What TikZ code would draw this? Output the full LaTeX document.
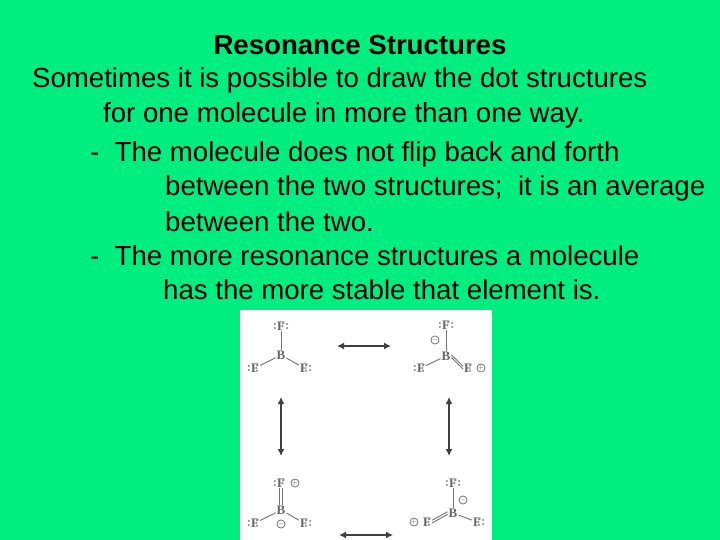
\documentclass[tikz,border=0pt]{standalone}
\usepackage{fontspec}
\setmainfont{Liberation Sans}
\newfontfamily\serifF{Liberation Serif}
\begin{document}
\begin{tikzpicture}[x=1pt,y=-1pt,
 txt/.style={anchor=west,inner sep=0pt,font=\fontsize{27.6}{30}\selectfont},
 atom/.style={inner sep=0.5pt,font=\serifF\bfseries\fontsize{13}{13}\selectfont,text=black!60},
 chg/.style={circle,draw=black!55,line width=0.8pt,inner sep=0pt,minimum size=8pt,font=\fontsize{7}{7}\selectfont,text=black!60},
 bond/.style={draw=black!55,line width=0.9pt,shorten <=0.5pt,shorten >=0.5pt},
 rarr/.style={draw=black!75,line width=1.5pt,{Latex[length=7pt,width=7pt]}-{Latex[length=7pt,width=7pt]}},
 lp/.style={fill=black!55,circle,inner sep=0pt,minimum size=2pt}]
\usetikzlibrary{arrows.meta}
\fill[fill={rgb,255:red,0;green,238;blue,127}] (0,0) rectangle (720,540);
\useasboundingbox (0,0) rectangle (720,540);
\node[anchor=center,inner sep=0pt,font=\bfseries\fontsize{27.6}{30}\selectfont] (title) at (360,45) {Resonance Structures};
\node[txt] (l1) at (32,80) {Sometimes it is possible to draw the dot structures};
\node[txt] (l2) at (103,115) {for one molecule in more than one way.};
\node[txt] (l3) at (90,154) {-\ \ The molecule does not flip back and forth};
\node[txt] (l4) at (165,188) {between the two structures;\ \ it is an average};
\node[txt] (l5) at (165,222) {between the two.};
\node[txt] (l6) at (90,256) {-\ \ The more resonance structures a molecule};
\node[txt] (l7) at (163,290) {has the more stable that element is.};
\fill[white] (240,310) rectangle (492,540);
% molecule 1
\node[atom] (b1) at (281,355) {B};
\node[atom] (f1t) at (281,326) {F};
\node[atom] (f1l) at (255,368) {F};
\node[atom] (f1r) at (304,368) {F};
\draw[bond] (b1)--(f1t); \draw[bond] (b1)--(f1l); \draw[bond] (b1)--(f1r);
% molecule 2
\node[atom] (b2) at (446,356) {B};
\node[atom] (f2t) at (446,325) {F};
\node[atom] (f2l) at (421,368) {F};
\node[atom] (f2r) at (468,368) {F};
\draw[bond] (b2)--(f2t); \draw[bond] (b2)--(f2l);
\draw[bond] ([yshift=-1.2pt]b2.east)--([yshift=-1.2pt]f2r.west); \draw[bond] ([yshift=1.5pt]b2.east)--([yshift=1.5pt]f2r.west);
\node[chg] (c2a) at (435,340) {$-$};
\node[chg] (c2b) at (481,368) {$+$};
% molecule 3
\node[atom] (b3) at (281,510) {B};
\node[atom] (f3t) at (281,483) {F};
\node[atom] (f3l) at (255,523) {F};
\node[atom] (f3r) at (304,523) {F};
\draw[bond] ([xshift=-1.3pt]b3.north)--([xshift=-1.3pt]f3t.south); \draw[bond] ([xshift=1.3pt]b3.north)--([xshift=1.3pt]f3t.south);
\draw[bond] (b3)--(f3l); \draw[bond] (b3)--(f3r);
\node[chg] (c3a) at (295,483) {$+$};
\node[chg] (c3b) at (281,524) {$-$};
% molecule 4
\node[atom] (b4) at (453,513) {B};
\node[atom] (f4t) at (453,483) {F};
\node[atom] (f4l) at (427,522) {F};
\node[atom] (f4r) at (477,522) {F};
\draw[bond] (b4)--(f4t); \draw[bond] (b4)--(f4r);
\draw[bond] ([yshift=-1.2pt]b4.west)--([yshift=-1.2pt]f4l.east); \draw[bond] ([yshift=1.5pt]b4.west)--([yshift=1.5pt]f4l.east);
\node[chg] (c4a) at (463,500) {$-$};
\node[chg] (c4b) at (414,522) {$+$};
% lone pairs
\foreach \n in {f1t,f2t,f3t,f4t}{
 \node[lp] at ([xshift=-2pt,yshift=-2pt]\n.north) {}; \node[lp] at ([xshift=2pt,yshift=-2pt]\n.north) {};}
\foreach \n in {f1t,f2t,f4t}{
 \node[lp] at ([xshift=-1.5pt,yshift=-2pt]\n.west) {}; \node[lp] at ([xshift=-1.5pt,yshift=2pt]\n.west) {};
 \node[lp] at ([xshift=1.5pt,yshift=-2pt]\n.east) {}; \node[lp] at ([xshift=1.5pt,yshift=2pt]\n.east) {};}
\node[lp] at ([xshift=-1.5pt,yshift=-2pt]f3t.west) {}; \node[lp] at ([xshift=-1.5pt,yshift=2pt]f3t.west) {};
\foreach \n in {f1l,f1r,f2l,f2r,f3l,f3r,f4l,f4r}{
 \node[lp] at ([xshift=-2pt,yshift=-2pt]\n.north) {}; \node[lp] at ([xshift=2pt,yshift=-2pt]\n.north) {};
 \node[lp] at ([xshift=-2pt,yshift=2pt]\n.south) {}; \node[lp] at ([xshift=2pt,yshift=2pt]\n.south) {};}
\foreach \n in {f1l,f2l,f3l}{\node[lp] at ([xshift=-1.5pt,yshift=-2pt]\n.west) {}; \node[lp] at ([xshift=-1.5pt,yshift=2pt]\n.west) {};}
\foreach \n in {f1r,f3r,f4r}{\node[lp] at ([xshift=1.5pt,yshift=-2pt]\n.east) {}; \node[lp] at ([xshift=1.5pt,yshift=2pt]\n.east) {};}
% arrows
\coordinate (a1) at (337,346); \coordinate (a2) at (391,346);
\coordinate (a3) at (281,397); \coordinate (a4) at (281,456);
\coordinate (a5) at (449,397); \coordinate (a6) at (449,456);
\coordinate (a7) at (339,535); \coordinate (a8) at (393,535);
\draw[rarr] (a1)--(a2); \draw[rarr] (a3)--(a4); \draw[rarr] (a5)--(a6); \draw[rarr] (a7)--(a8);
\end{tikzpicture}
\end{document}
